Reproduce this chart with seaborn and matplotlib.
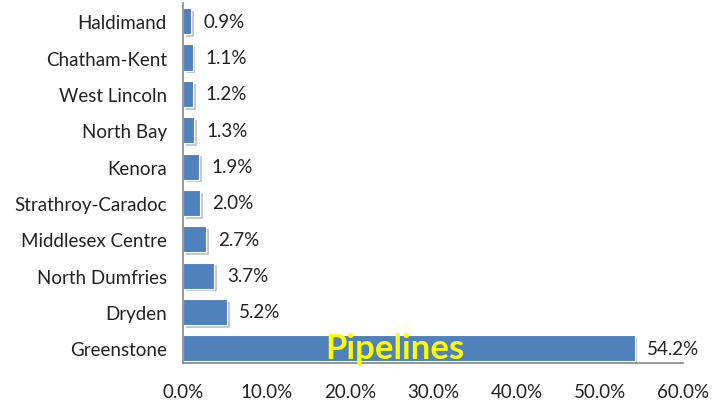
import matplotlib.pyplot as plt
import matplotlib.patheffects as pe
import seaborn as sns

# --- data ---
towns = ['Haldimand', 'Chatham-Kent', 'West Lincoln', 'North Bay', 'Kenora',
         'Strathroy-Caradoc', 'Middlesex Centre', 'North Dumfries', 'Dryden',
         'Greenstone']
shares = [0.9, 1.1, 1.2, 1.3, 1.9, 2.0, 2.7, 3.7, 5.2, 54.2]
xticks = [0, 10, 20, 30, 40, 50, 60]

sns.set_style('white')
plt.rcParams['font.family'] = ['Lato', 'DejaVu Sans']

fig, ax = plt.subplots(figsize=(7.28, 4.06), dpi=100)
fig.subplots_adjust(left=0.252, right=0.938, top=0.990, bottom=0.103)

sns.barplot(x=shares, y=towns, orient='h', color='#4F81BD', saturation=1,
            width=0.72, ax=ax)

# soft shadow like the original
for bar in ax.patches:
    bar.set_path_effects([pe.SimplePatchShadow(offset=(2, -2), alpha=0.25),
                          pe.Normal()])
    bar.set_edgecolor('white')
    bar.set_linewidth(0.8)

for i, v in enumerate(shares):
    ax.text(v + 1.5, i, f'{v:.1f}%', va='center', ha='left',
            fontsize=13.5, color='#222222')

ax.text(25.4, len(towns) - 1, 'Pipelines', ha='center', va='center',
        fontsize=25, fontweight='bold', color='#FFFF00')

ax.set_xlim(0, 60)
ax.set_ylim(len(towns) - 0.59, -0.5)
ax.set_xticks(xticks)
ax.set_xticklabels([f'{t:.1f}%' for t in xticks], fontsize=13.5, color='#222222')
ax.tick_params(axis='y', labelsize=13.5, colors='#222222', length=0, pad=12)
ax.tick_params(axis='x', length=0, pad=14)
ax.set_xlabel('')
ax.set_ylabel('')

sns.despine(ax=ax, top=True, right=True)
for side in ['left', 'bottom']:
    ax.spines[side].set_color('#888888')
    ax.spines[side].set_linewidth(1.2)

fig.savefig('out.png', dpi=100)
